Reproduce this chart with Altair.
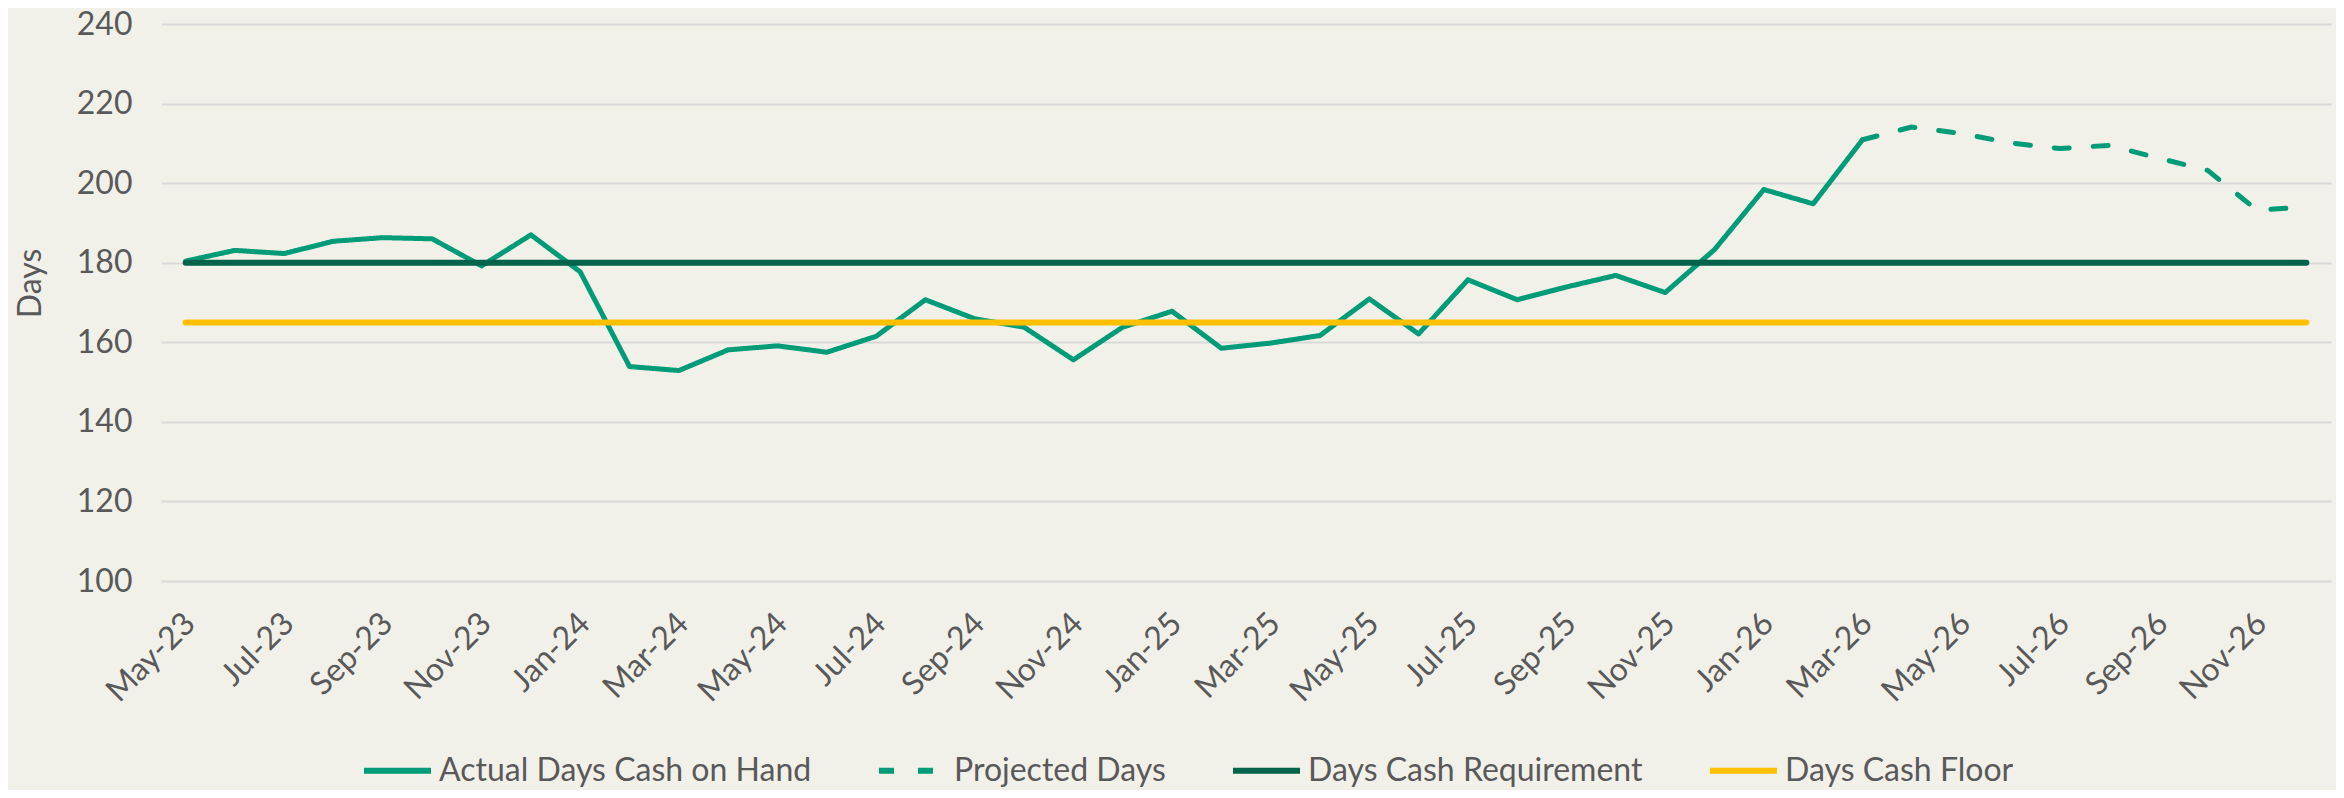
import altair as alt
import pandas as pd

months = ["May-23", "Jun-23", "Jul-23", "Aug-23", "Sep-23", "Oct-23", "Nov-23", "Dec-23",
          "Jan-24", "Feb-24", "Mar-24", "Apr-24", "May-24", "Jun-24", "Jul-24", "Aug-24",
          "Sep-24", "Oct-24", "Nov-24", "Dec-24",
          "Jan-25", "Feb-25", "Mar-25", "Apr-25", "May-25", "Jun-25", "Jul-25", "Aug-25",
          "Sep-25", "Oct-25", "Nov-25", "Dec-25",
          "Jan-26", "Feb-26", "Mar-26", "Apr-26", "May-26", "Jun-26", "Jul-26", "Aug-26",
          "Sep-26", "Oct-26", "Nov-26", "Dec-26"]

actual = [180.4, 183.1, 182.3, 185.4, 186.3, 186.0, 179.2, 187.0,
          177.7, 153.9, 152.9, 158.1, 159.1, 157.5, 161.5, 170.7,
          165.9, 163.8, 155.6, 163.8,
          167.8, 158.5, 159.8, 161.7, 170.9, 162.1, 175.7, 170.7,
          173.9, 176.8, 172.5, 183.3,
          198.4, 194.8, 210.9]

projected_months = months[34:]
projected = [210.9, 214.1, 212.5, 210.1, 208.7, 209.5, 206.3, 203.2, 193.2, 194.0]

requirement = [180] * len(months)
floor = [165] * len(months)

series_names = ["Actual Days Cash on Hand", "Projected Days", "Days Cash Requirement", "Days Cash Floor"]
series_colors = ["#009B77", "#009B77", "#00634A", "#FFC000"]
series_dash = [[1, 0], [15, 24], [1, 0], [1, 0]]

rows = []
for m, v in zip(months[:len(actual)], actual):
    rows.append({"month": m, "value": v, "series": series_names[0]})
for m, v in zip(projected_months, projected):
    rows.append({"month": m, "value": v, "series": series_names[1]})
for m, v in zip(months, requirement):
    rows.append({"month": m, "value": v, "series": series_names[2]})
for m, v in zip(months, floor):
    rows.append({"month": m, "value": v, "series": series_names[3]})
df = pd.DataFrame(rows)

FONT = "Lato"
TXT = "#595959"
FS = 32

x_enc = alt.X("month:O", sort=months, title=None,
              scale=alt.Scale(type="point", padding=0.5),
              axis=alt.Axis(values=months[::2], labelAngle=-45, labelAlign="right",
                            labelBaseline="middle", labelPadding=37, labelOffset=4,
                            domain=False, ticks=False, grid=False, labelFontSize=FS,
                            labelColor=TXT, labelFont=FONT))
y_enc = alt.Y("value:Q", title="Days",
              scale=alt.Scale(domain=[100, 240], nice=False, zero=False),
              axis=alt.Axis(values=list(range(100, 241, 20)), domain=False, ticks=False,
                            grid=True, gridColor="#D9D9D9", gridWidth=2,
                            labelFontSize=FS, labelColor=TXT, labelFont=FONT,
                            labelPadding=29, titleFontSize=FS, titleColor=TXT,
                            titleFont=FONT, titleFontWeight="normal",
                            titleAngle=-90, titleAlign="center", titleBaseline="middle",
                            titleX=-131, titleY=259))

legend = alt.Legend(orient="none", legendX=200, legendY=710,
                    direction="horizontal", columns=4, padding=0,
                    symbolType="stroke", symbolSize=4489,
                    symbolStrokeWidth=6, labelFontSize=FS,
                    labelColor=TXT, labelFont=FONT, labelLimit=800,
                    columnPadding=55, labelOffset=5)

color_enc = alt.Color("series:N", title=None,
                      scale=alt.Scale(domain=series_names, range=series_colors),
                      legend=legend)
dash_enc = alt.StrokeDash("series:N", title=None,
                          scale=alt.Scale(domain=series_names, range=series_dash),
                          legend=legend)

base = alt.Chart(df)

l_act = base.transform_filter(
    alt.FieldOneOfPredicate(field="series", oneOf=series_names[:2])
).mark_line(strokeWidth=5, strokeCap="round", strokeJoin="round").encode(
    x=x_enc, y=y_enc, color=color_enc, strokeDash=dash_enc, detail="series:N")

l_req = base.transform_filter(
    alt.FieldEqualPredicate(field="series", equal=series_names[2])
).mark_line(strokeWidth=6, strokeCap="round").encode(
    x=x_enc, y=y_enc, color=color_enc, strokeDash=dash_enc)

l_floor = base.transform_filter(
    alt.FieldEqualPredicate(field="series", equal=series_names[3])
).mark_line(strokeWidth=6, strokeCap="round").encode(
    x=x_enc, y=y_enc, color=color_enc, strokeDash=dash_enc)

chart = alt.layer(l_act, l_req, l_floor).properties(
    width=2170, height=557,
    autosize=alt.AutoSizeParams(type="none"),
    padding={"left": 153, "top": 16, "right": 5, "bottom": 209},
    background="#F1F1EA",
).configure(font=FONT).configure_view(stroke=None)

chart.save("out.html", embed_options={"renderer": "svg", "actions": False})
